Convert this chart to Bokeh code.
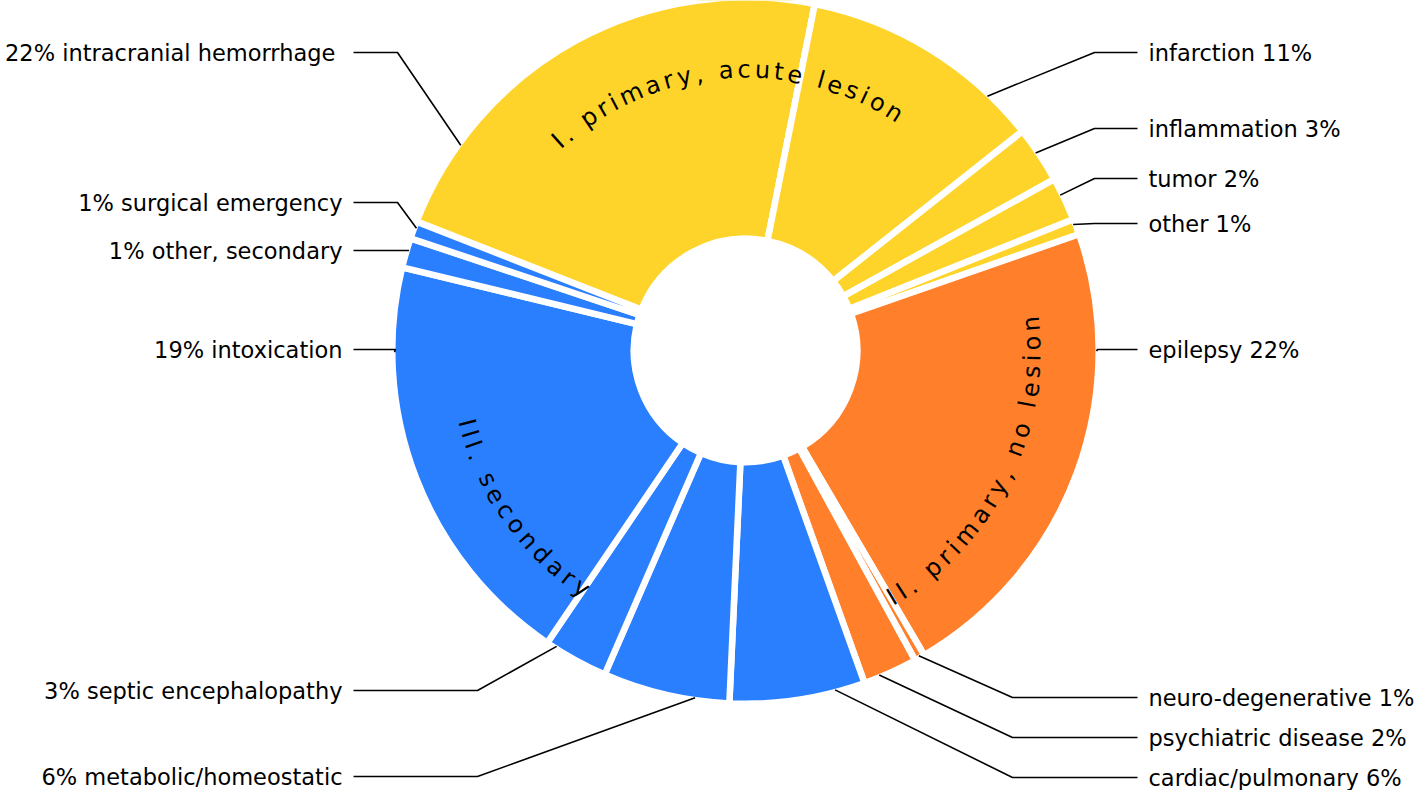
import math
from bokeh.plotting import figure
from bokeh.models import Range1d, ColumnDataSource
from bokeh.core.properties import value
from bokeh.embed import file_html
from bokeh.resources import INLINE

# ---------------- data ----------------
categories = ["intracranial hemorrhage", "infarction", "inflammation", "tumor", "other",
              "epilepsy", "neuro-degenerative", "psychiatric disease",
              "cardiac/pulmonary", "metabolic/homeostatic", "septic encephalopathy",
              "intoxication", "other, secondary", "surgical emergency"]
shares = [22.2, 11.2, 2.6, 2.0, 0.72,
          21.9, 0.47, 2.5,
          6.2, 5.8, 2.96, 19.3, 1.36, 0.8]
groups = ["I", "I", "I", "I", "I",
          "II", "II", "II",
          "III", "III", "III", "III", "III", "III"]
label_texts = ["22% intracranial  hemorrhage", "infarction 11%", "inflammation 3%", "tumor 2%",
               "other 1%", "epilepsy 22%", "neuro-degenerative 1%", "psychiatric disease 2%",
               "cardiac/pulmonary 6%", "6% metabolic/homeostatic", "3% septic encephalopathy",
               "19% intoxication", "1% other, secondary", "1% surgical emergency"]
group_keys = ["I", "II", "III"]
group_names = ["I. primary, acute lesion", "II. primary, no lesion", "III. secondary"]
group_colors = {"I": "#FFD42A", "II": "#FF7F2A", "III": "#2A7FFF"}

# ---------------- layout ----------------
W, H = 1418, 790
CX, CY = 745, H - 350          # data coords, y up
R_OUT, R_IN = 350, 115
GAP = 6.5
START = -68.6                  # compass degrees (clockwise from top)
FONT = "DejaVu Sans"
FS = 22.5

# side, label y (page px), elbow x, anchor fraction within slice
label_layout = [
    ("L", 52, 397, 0.18),
    ("R", 52, 1094, 0.80),
    ("R", 128, 1094, 0.44),
    ("R", 178, 1094, 0.38),
    ("R", 223, 1094, 0.30),
    ("R", 349, 1097, 0.245),
    ("R", 697, 1012, 0.47),
    ("R", 737, 1012, 0.70),
    ("R", 777, 1012, 0.22),
    ("L", 776, 477, 0.27),
    ("L", 690, 477, 0.85),
    ("L", 349, 395, 0.80),
    ("L", 250, 408, 0.60),
    ("L", 202, 397, 0.65),
]
# curved group titles: center compass angle, radius, letters upright outward?
group_text_layout = [(-4.5, 281, True), (116.6, 287, False), (234.7, 288, False)]

p = figure(width=W, height=H,
           x_range=Range1d(0, W), y_range=Range1d(0, H),
           output_backend="svg", toolbar_location=None, min_border=0,
           x_axis_type=None, y_axis_type=None)
p.grid.visible = False
p.outline_line_color = None
p.background_fill_color = "white"
p.border_fill_color = "white"

total = sum(shares)
phi1, phi2 = [], []
acc = START
for s in shares:
    d = s / total * 360.0
    phi1.append(acc)
    phi2.append(acc + d)
    acc += d

src = ColumnDataSource(dict(
    start=[math.radians(90 - b) for b in phi2],
    end=[math.radians(90 - a) for a in phi1],
    color=[group_colors[g] for g in groups],
    name=categories,
))
p.annular_wedge(x=CX, y=CY, inner_radius=R_IN - GAP / 2, outer_radius=R_OUT + GAP / 2,
                start_angle="start", end_angle="end", fill_color="color",
                line_color="white", line_width=GAP, source=src)

# leader lines and labels
xs, ys = [], []
lx, ly, lt = [], [], []
rx, ry, rt = [], [], []
for i, (side, ypix, ex, frac) in enumerate(label_layout):
    phi = math.radians(phi1[i] + frac * (phi2[i] - phi1[i]))
    sx = CX + (R_OUT + 1) * math.sin(phi)
    sy = CY + (R_OUT + 1) * math.cos(phi)
    yl = H - ypix
    endx = 1137 if side == "R" else 353
    xs.append([sx, ex, endx])
    ys.append([sy, yl, yl])
    if side == "R":
        rx.append(1148); ry.append(yl - 0.5); rt.append(label_texts[i])
    else:
        lx.append(342); ly.append(yl - 0.5); lt.append(label_texts[i])

p.multi_line(xs=xs, ys=ys, line_color="black", line_width=1.6)
p.text(x=lx, y=ly, text=lt, text_font=value(FONT), text_font_size=value(f"{FS}px"),
       text_align="right", text_baseline="middle", text_color="black")
p.text(x=rx, y=ry, text=rt, text_font=value(FONT), text_font_size=value(f"{FS}px"),
       text_align="left", text_baseline="middle", text_color="black")

# curved group titles, one glyph per character
ADV = {"I": .295, ".": .318, " ": .318, "p": .635, "r": .411, "i": .278, "m": .974,
       "a": .613, "y": .592, ",": .318, "c": .550, "u": .634, "t": .392, "e": .615,
       "l": .278, "s": .521, "o": .612, "n": .634, "d": .635}
TRACK = 4.2
GFS = 24
cx_, cy_, ct_, ca_ = [], [], [], []
for name, (cphi, r, outward) in zip(group_names, group_text_layout):
    advs = [ADV.get(ch, .6) * GFS for ch in name]
    tot = sum(advs) + TRACK * (len(name) - 1)
    pos = 0.0
    for ch, a in zip(name, advs):
        s = pos + a / 2 - tot / 2
        pos += a + TRACK
        dphi = math.degrees(s / r)
        ph = cphi + dphi if outward else cphi - dphi
        rad = math.radians(ph)
        cx_.append(CX + r * math.sin(rad))
        cy_.append(CY + r * math.cos(rad))
        ct_.append(ch)
        ang = -rad if outward else -rad + math.pi
        ca_.append(ang)
p.text(x=cx_, y=cy_, text=ct_, angle=ca_, text_font=value(FONT),
       text_font_size=value(f"{GFS}px"), text_align="center", text_baseline="middle",
       text_color="black")

open("out.html", "w").write(file_html(p, INLINE))
